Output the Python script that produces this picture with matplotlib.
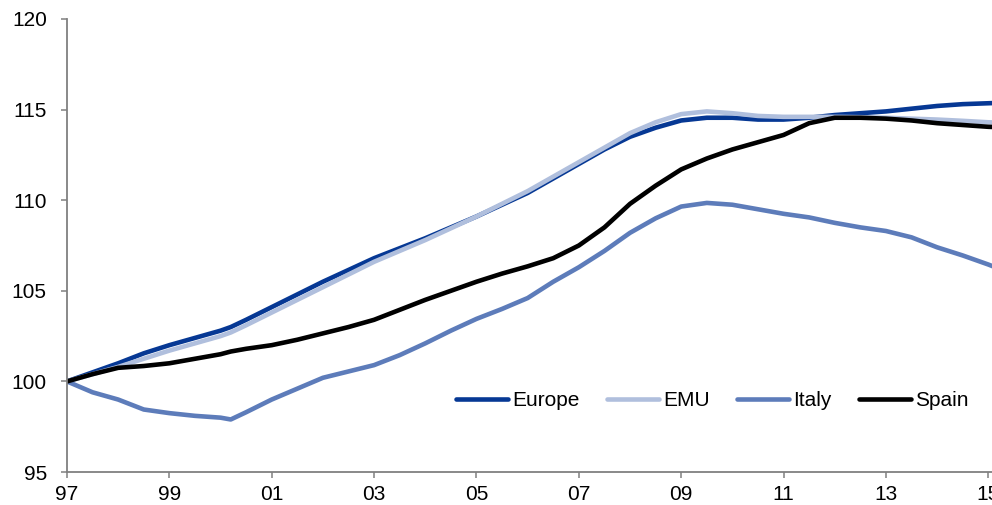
import matplotlib
matplotlib.use('Agg')
import matplotlib.pyplot as plt

# Index levels, 1997 = 100
years = [1997.0, 1997.5, 1998.0, 1998.5, 1999.0, 1999.5, 2000.0, 2000.2, 2000.5,
         2001.0, 2001.5, 2002.0, 2002.5, 2003.0, 2003.5, 2004.0, 2004.5, 2005.0,
         2005.5, 2006.0, 2006.5, 2007.0, 2007.5, 2008.0, 2008.5, 2009.0, 2009.5,
         2010.0, 2010.5, 2011.0, 2011.5, 2012.0, 2012.5, 2013.0, 2013.5, 2014.0,
         2014.5, 2015.0, 2015.5]

europe = [100.0, 100.5, 101.0, 101.55, 102.0, 102.4, 102.8, 103.0, 103.4,
          104.1, 104.8, 105.5, 106.15, 106.8, 107.35, 107.9, 108.5, 109.1,
          109.75, 110.4, 111.2, 112.0, 112.8, 113.5, 114.0, 114.4, 114.55,
          114.55, 114.45, 114.45, 114.55, 114.7, 114.8, 114.9, 115.05, 115.2,
          115.3, 115.35, 115.4]

emu = [100.0, 100.4, 100.8, 101.25, 101.7, 102.1, 102.5, 102.7, 103.1,
       103.8, 104.5, 105.2, 105.9, 106.6, 107.2, 107.8, 108.45, 109.1,
       109.8, 110.5, 111.3, 112.1, 112.9, 113.7, 114.3, 114.75, 114.9,
       114.8, 114.65, 114.6, 114.6, 114.6, 114.58, 114.55, 114.5, 114.45,
       114.38, 114.3, 114.25]

italy = [100.0, 99.4, 99.0, 98.45, 98.25, 98.1, 98.0, 97.9, 98.3,
         99.0, 99.6, 100.2, 100.55, 100.9, 101.45, 102.1, 102.8, 103.45,
         104.0, 104.6, 105.5, 106.3, 107.2, 108.2, 109.0, 109.65, 109.85,
         109.75, 109.5, 109.25, 109.05, 108.75, 108.5, 108.3, 107.95, 107.4,
         106.95, 106.45, 105.9]

spain = [100.0, 100.4, 100.75, 100.85, 101.0, 101.25, 101.5, 101.65, 101.8,
         102.0, 102.3, 102.65, 103.0, 103.4, 103.95, 104.5, 105.0, 105.5,
         105.95, 106.35, 106.8, 107.5, 108.5, 109.8, 110.8, 111.7, 112.3,
         112.8, 113.2, 113.6, 114.25, 114.55, 114.55, 114.5, 114.4, 114.25,
         114.15, 114.05, 114.0]

series = [("Europe", europe, "#063894"),
          ("EMU", emu, "#b0bfdd"),
          ("Italy", italy, "#5d7cba"),
          ("Spain", spain, "#000000")]

x_ticks = list(range(1997, 2016, 2))
x_labels = ["97", "99", "01", "03", "05", "07", "09", "11", "13", "15"]
y_ticks = [95, 100, 105, 110, 115, 120]

plt.rcParams['font.family'] = ['Liberation Sans', 'DejaVu Sans']

fig = plt.figure(figsize=(9.92, 5.05), dpi=100)
ax = fig.add_axes([0.0675, 0.0653, 0.9546, 0.8971])

for name, vals, col in series:
    ax.plot(years, vals, color=col, lw=3.3, label=name, solid_capstyle='round')

ax.set_xlim(1997, 2015.5)
ax.set_ylim(95, 120)
ax.set_xticks(x_ticks)
ax.set_xticklabels(x_labels)
ax.set_yticks(y_ticks)

for side in ['top', 'right']:
    ax.spines[side].set_visible(False)
for side in ['left', 'bottom']:
    ax.spines[side].set_color('#808080')
    ax.spines[side].set_linewidth(1.3)

ax.tick_params(axis='both', direction='out', length=4.5, width=1.1,
               color='#808080', labelsize=15, labelcolor='black')
ax.tick_params(axis='y', pad=10)
ax.tick_params(axis='x', pad=5)

ax.legend(loc='center', bbox_to_anchor=(0.718, 0.206), bbox_transform=fig.transFigure,
          ncol=4, frameon=False, fontsize=15, handlelength=2.5,
          handletextpad=0.2, columnspacing=1.3)

fig.savefig("out.png", dpi=100)
